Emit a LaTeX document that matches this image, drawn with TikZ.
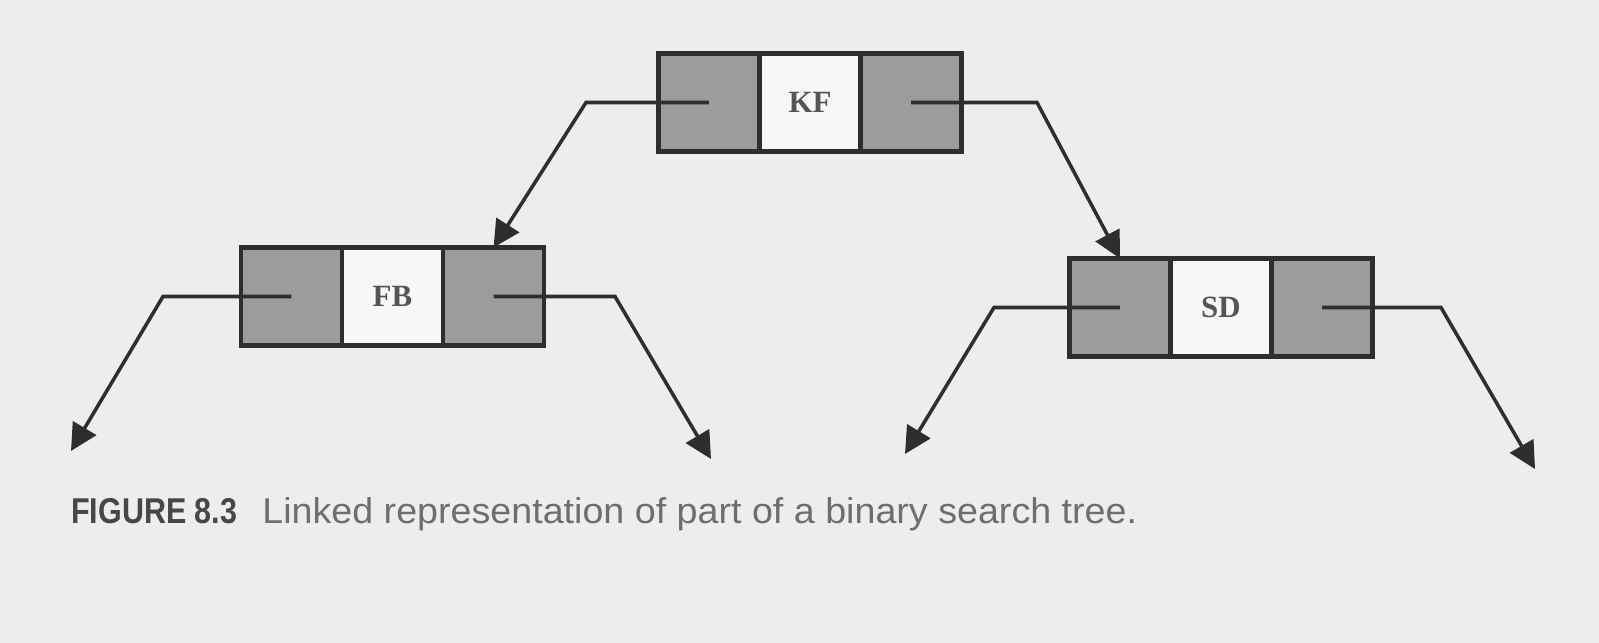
\documentclass[tikz,border=0pt]{standalone}
\usepackage{fontspec}
\setmainfont{Liberation Serif}
\newfontfamily\capfont[FakeStretch=1.05]{Liberation Sans}
\newfontfamily\capbold[FakeStretch=0.85]{Liberation Sans Bold}
\usetikzlibrary{arrows.meta,positioning}
\definecolor{paper}{HTML}{EDEDED}
\definecolor{cellgray}{HTML}{9C9C9C}
\definecolor{keyfill}{HTML}{F7F7F7}
\definecolor{ink}{HTML}{2E2E2E}
\definecolor{keyink}{HTML}{555555}
\definecolor{capink}{HTML}{6E6E6E}
\tikzset{
  ptr/.style={draw=ink,line width=3pt,fill=cellgray,minimum width=2.525cm,
              minimum height=2.45cm,inner sep=0pt,outer sep=0pt},
  keycell/.style={ptr,fill=keyfill,text=keyink,font=\bfseries\fontsize{22}{24}\selectfont},
  arr/.style={-{Triangle[length=19pt,width=19pt]},line width=2.5pt,draw=ink,line join=miter},
}
\begin{document}
\begin{tikzpicture}[x=0.025cm,y=-0.025cm]
  \path[fill=paper] (0,0) rectangle (1599,643);
  % records
  \node[keycell] (kf) at (810,102.5) {KF};
  \node[ptr,left=0pt of kf] (kfL) {};
  \node[ptr,right=0pt of kf] (kfR) {};
  \node[keycell] (fb) at (392.5,296.5) {FB};
  \node[ptr,left=0pt of fb] (fbL) {};
  \node[ptr,right=0pt of fb] (fbR) {};
  \node[keycell] (sd) at (1221,307.5) {SD};
  \node[ptr,left=0pt of sd] (sdL) {};
  \node[ptr,right=0pt of sd] (sdR) {};
  % bends and loose ends
  \coordinate (b1) at (586,102.5);
  \coordinate (b2) at (1037,102.5);
  \coordinate (b3) at (163,296.5);
  \coordinate (b4) at (615,296.5);
  \coordinate (b5) at (994,307.5);
  \coordinate (b6) at (1441,307.5);
  \coordinate (e3) at (71,451);
  \coordinate (e4) at (711,459);
  \coordinate (e5) at (905,454);
  \coordinate (e6) at (1535,469);
  \draw[arr] (kfL.center) -- (b1) -- (fbR.north);
  \draw[arr] (kfR.center) -- (b2) -- (sdL.north);
  \draw[arr] (fbL.center) -- (b3) -- (e3);
  \draw[arr] (fbR.center) -- (b4) -- (e4);
  \draw[arr] (sdL.center) -- (b5) -- (e5);
  \draw[arr] (sdR.center) -- (b6) -- (e6);
  \node[anchor=base west,inner sep=0pt,text=capink,font=\capfont\fontsize{25.5}{27}\selectfont]
    (cap) at (71,523) {{\capbold\color{capink!65!black}FIGURE 8.3}\hspace{0.7em}Linked representation of part of a binary search tree.};
\end{tikzpicture}
\end{document}
